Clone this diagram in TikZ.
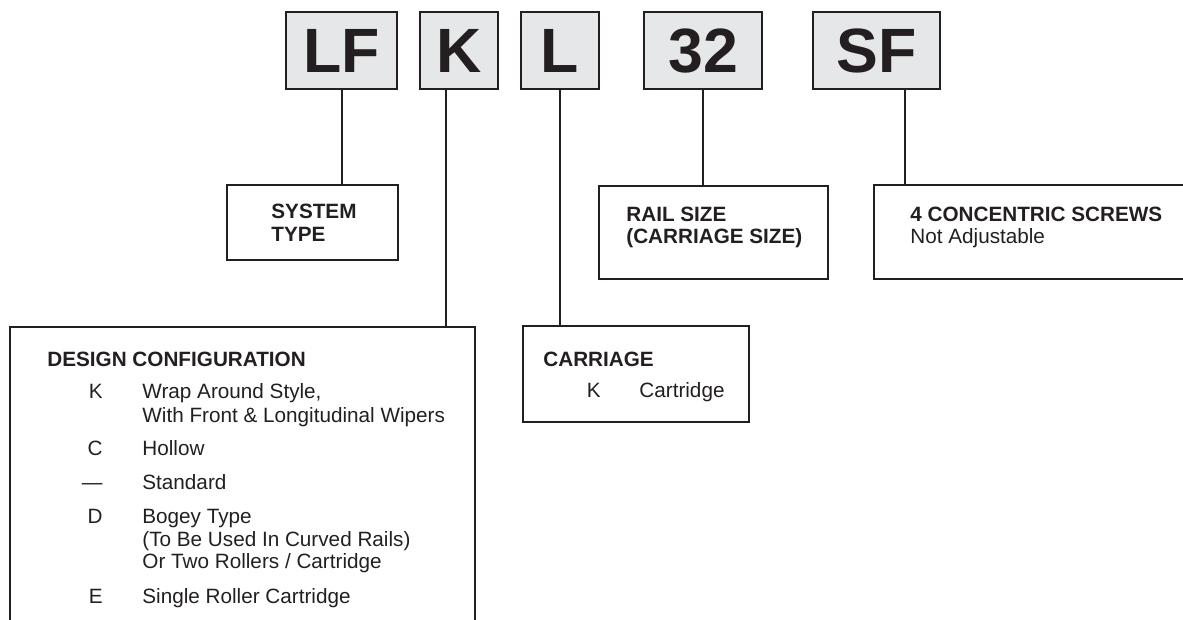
\documentclass[tikz,border=0pt]{standalone}
\usepackage{fontspec}
\setmainfont{Liberation Sans}
\usetikzlibrary{calc}
\definecolor{ink}{HTML}{231F20}
\definecolor{boxgray}{HTML}{E6E7E8}
\tikzset{
  codebox/.style={draw=ink, line width=1.2pt, fill=boxgray, inner sep=0pt,
    minimum height=38.5pt, text height=22.5pt, text depth=0pt,
    font=\fontsize{31.3}{36}\selectfont\bfseries, text=ink},
  infobox/.style={draw=ink, line width=1.15pt, inner sep=0pt, anchor=north west},
  conn/.style={draw=ink, line width=1pt},
  txt/.style={anchor=base west, inner sep=0pt, text=ink, font=\fontsize{10.35}{12}\selectfont},
  btxt/.style={txt, font=\fontsize{10.35}{12}\selectfont\bfseries},
  code/.style={anchor=base east, inner sep=0pt, text=ink, font=\fontsize{10.35}{12}\selectfont},
}
\begin{document}
\begin{tikzpicture}[x=0.5pt, y=-0.5pt]
\useasboundingbox (0,0) rectangle (1183,620);
% top code boxes
\node[codebox, minimum width=55.5pt] (lf) at (341.5,50.5) {LF};
\node[codebox, minimum width=39pt] (k) at (459,50.5) {K};
\node[codebox, minimum width=39pt] (l) at (560,50.5) {L};
\node[codebox, minimum width=59pt] (n32) at (703,50.5) {32};
\node[codebox, minimum width=63.5pt] (sf) at (876.5,50.5) {SF};
% info boxes
\node[infobox, minimum width=85.5pt, minimum height=37.5pt] (sys) at (226,184) {};
\node[infobox, minimum width=114.5pt, minimum height=46.5pt] (rail) at (598,185) {};
\node[infobox, minimum width=170pt, minimum height=47pt] (conc) at (873,184) {};
\node[infobox, minimum width=232.5pt, minimum height=170pt] (des) at (9,326) {};
\node[infobox, minimum width=113pt, minimum height=48pt] (carr) at (522,325) {};
% connectors
\coordinate (kout) at ($(k.south west)!0.333!(k.south east)$);
\coordinate (sfout) at ($(sf.south west)!0.724!(sf.south east)$);
\draw[conn] (lf.south) -- (lf.south |- sys.north);
\draw[conn] (kout) -- (kout |- des.north);
\draw[conn] (l.south) -- (l.south |- carr.north);
\draw[conn] (n32.south) -- (n32.south |- rail.north);
\draw[conn] (sfout) -- (sfout |- conc.north);
% texts
\node[btxt] (t1) at (271,219) {SYSTEM};
\node[btxt] (t2) at (271,242) {TYPE};
\node[btxt] (t3) at (626,222) {RAIL SIZE};
\node[btxt] (t4) at (626,244) {(CARRIAGE SIZE)};
\node[btxt] (t5) at (910,222) {4 CONCENTRIC SCREWS};
\node[txt] (t6) at (910,244) {Not Adjustable};
\node[btxt] (t7) at (47,366) {DESIGN CONFIGURATION};
\node[code] (c1) at (103,398) {K};
\node[txt] (d1) at (142,398) {Wrap Around Style,};
\node[txt] (d1b) at (142,422) {With Front \& Longitudinal Wipers};
\node[code] (c2) at (103,455) {C};
\node[txt] (d2) at (142,455) {Hollow};
\node[code] (c3) at (103,489) {—};
\node[txt] (d3) at (142,489) {Standard};
\node[code] (c4) at (103,523) {D};
\node[txt] (d4) at (142,523) {Bogey Type};
\node[txt] (d4b) at (142,546) {(To Be Used In Curved Rails)};
\node[txt] (d4c) at (142,568) {Or Two Rollers / Cartridge};
\node[code] (c5) at (103,603) {E};
\node[txt] (d5) at (142,603) {Single Roller Cartridge};
\node[btxt] (t8) at (543,366) {CARRIAGE};
\node[code] (c6) at (601,397) {K};
\node[txt] (d6) at (639,397) {Cartridge};
\end{tikzpicture}
\end{document}
